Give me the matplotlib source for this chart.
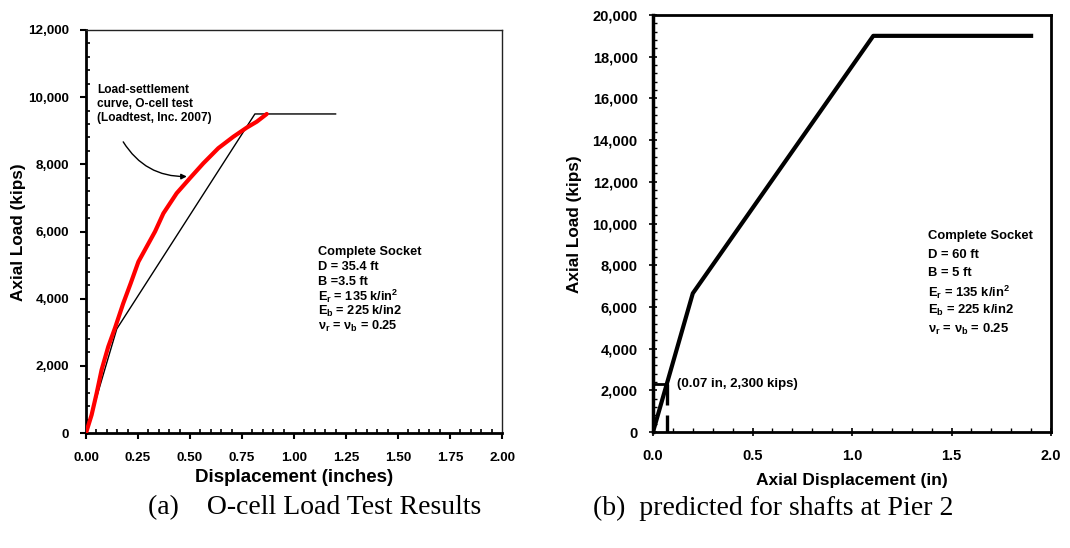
import matplotlib.pyplot as plt
from matplotlib.ticker import MultipleLocator, FuncFormatter

# ---- data ----
# (a) O-cell load test
test_disp = [0.0, 0.027, 0.051, 0.075, 0.107, 0.139, 0.179, 0.215, 0.252, 0.292,
             0.332, 0.372, 0.436, 0.500, 0.564, 0.636, 0.708, 0.772, 0.821, 0.869]
test_load = [0, 540, 1180, 1880, 2570, 3120, 3860, 4460, 5100, 5550,
             6000, 6540, 7140, 7590, 8030, 8480, 8820, 9090, 9270, 9500]
pred_a_disp = [0.0, 0.148, 0.812, 1.20]
pred_a_load = [0, 3100, 9500, 9500]

# (b) predicted for shafts at Pier 2
pred_b_disp = [0.0, 0.20, 1.107, 1.90]
pred_b_load = [0, 6650, 19000, 19000]
mark_disp = 0.07
mark_load = 2300

box_a = ["Complete Socket", "D = 35.4 ft", "B =3.5 ft",
         r"E$\mathregular{_r}$ = 135 k/in$\mathregular{^2}$",
         r"E$\mathregular{_b}$ = 225 k/in2",
         r"ν$\mathregular{_r}$ = ν$\mathregular{_b}$ = 0.25"]
box_b = ["Complete Socket", "D = 60 ft", "B = 5 ft",
         r"E$\mathregular{_r}$ = 135 k/in$\mathregular{^2}$",
         r"E$\mathregular{_b}$ = 225 k/in2",
         r"ν$\mathregular{_r}$ = ν$\mathregular{_b}$ = 0.25"]

plt.rcParams['font.family'] = ['Liberation Sans', 'DejaVu Sans']
plt.rcParams['font.weight'] = 'bold'

W, H = 1070, 548
fig = plt.figure(figsize=(W / 100, H / 100), dpi=100)


def fx(px):
    return px / W


def fy(py):
    return 1 - py / H


comma = FuncFormatter(lambda v, p: f"{v:,.0f}")

# ---------------- panel (a) ----------------
ax1 = fig.add_axes([fx(86), fy(433), fx(502 - 86), (433 - 30) / H])
ax1.plot(pred_a_disp, pred_a_load, color='black', lw=1.0, zorder=2)
ax1.plot(test_disp, test_load, color='#ff0000', lw=3, zorder=3, solid_capstyle='round')
ax1.set_xlim(0, 2)
ax1.set_ylim(0, 12000)
ax1.xaxis.set_major_locator(MultipleLocator(0.25))
ax1.xaxis.set_minor_locator(MultipleLocator(0.05))
ax1.yaxis.set_major_locator(MultipleLocator(2000))
ax1.yaxis.set_minor_locator(MultipleLocator(400))
ax1.yaxis.set_major_formatter(comma)
ax1.xaxis.set_major_formatter(FuncFormatter(lambda v, p: f"{v:.2f}"))
ax1.tick_params(which='major', direction='out', length=4, width=1.5, labelsize=9.7, pad=8)
ax1.tick_params(which='minor', direction='in', length=3, width=1.2)
ax1.tick_params(axis='x', which='major', pad=10)
for s in ['left', 'bottom']:
    ax1.spines[s].set_linewidth(2)
for s in ['top', 'right']:
    ax1.spines[s].set_linewidth(1)
    ax1.spines[s].set_color('#222222')
for lab in ax1.get_xticklabels() + ax1.get_yticklabels():
    lab.set_fontweight('bold')

fig.text(fx(294), fy(477), "Displacement (inches)", ha='center', va='center',
         fontsize=13.5, fontweight='bold')
fig.text(fx(19), fy(232), "Axial Load (kips)", ha='center', va='center',
         rotation=90, fontsize=12.3, fontweight='bold')

ax1.text(0.053, 9800, "Load-settlement\ncurve, O-cell test\n(Loadtest, Inc. 2007)",
         fontsize=8.6, fontweight='bold', va='center', ha='left', linespacing=1.25)
ax1.annotate("", xy=(0.498, 7640), xytext=(0.172, 8740),
             arrowprops=dict(arrowstyle='-|>', color='black', lw=1.0,
                             mutation_scale=8,
                             connectionstyle='arc3,rad=0.3'))

for i, line in enumerate(box_a):
    fig.text(fx(318), fy(252 + i * 14.8), line, fontsize=9.2, fontweight='bold',
             ha='left', va='center')

fig.text(fx(148), fy(508), "(a)    O-cell Load Test Results", family='Liberation Serif',
         fontweight='normal', fontsize=20, ha='left', va='center')

# ---------------- panel (b) ----------------
ax2 = fig.add_axes([fx(653), fy(432), fx(1051 - 653), (432 - 15) / H])
ax2.plot(pred_b_disp, pred_b_load, color='black', lw=3, zorder=3)
ax2.plot([0, mark_disp], [mark_load, mark_load], color='black', lw=2, zorder=2)
ax2.plot([mark_disp, mark_disp], [mark_load, 0], color='black', lw=2.4,
         linestyle=(0, (6.3, 3)), zorder=2)
ax2.set_xlim(0, 2)
ax2.set_ylim(0, 20000)
ax2.xaxis.set_major_locator(MultipleLocator(0.5))
ax2.xaxis.set_minor_locator(MultipleLocator(0.1))
ax2.yaxis.set_major_locator(MultipleLocator(2000))
ax2.yaxis.set_minor_locator(MultipleLocator(400))
ax2.yaxis.set_major_formatter(comma)
ax2.xaxis.set_major_formatter(FuncFormatter(lambda v, p: f"{v:.1f}"))
ax2.tick_params(which='major', direction='inout', length=6, width=1.2, labelsize=10.5, pad=8)
ax2.tick_params(which='minor', direction='in', length=3, width=1)
ax2.tick_params(axis='x', which='major', pad=9)
for s in ['left', 'bottom', 'top', 'right']:
    ax2.spines[s].set_linewidth(2)
ax2.spines['left'].set_linewidth(2.5)
for lab in ax2.get_xticklabels() + ax2.get_yticklabels():
    lab.set_fontweight('bold')

ax2.text(0.12, mark_load, "(0.07 in, 2,300 kips)", fontsize=9.5, fontweight='bold',
         ha='left', va='center')

fig.text(fx(852), fy(480), "Axial Displacement (in)", ha='center', va='center',
         fontsize=12.5, fontweight='bold')
fig.text(fx(575), fy(224), "Axial Load (kips)", ha='center', va='center',
         rotation=90, fontsize=12.3, fontweight='bold')

for i, line in enumerate(box_b):
    fig.text(fx(928), fy(236 + i * 18.7), line, fontsize=9.4, fontweight='bold',
             ha='left', va='center')

fig.text(fx(593), fy(508), "(b)  predicted for shafts at Pier 2", family='Liberation Serif',
         fontweight='normal', fontsize=20, ha='left', va='center')

fig.savefig("out.png", dpi=100)
